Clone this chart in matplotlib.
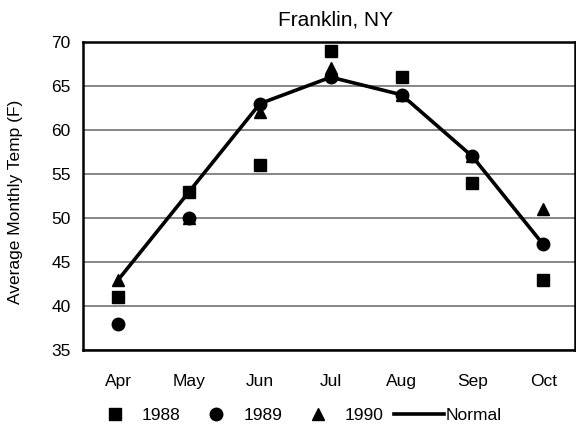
import matplotlib
matplotlib.use("Agg")
import matplotlib.pyplot as plt
import numpy as np

months = ["Apr", "May", "Jun", "Jul", "Aug", "Sep", "Oct"]
temp_1988 = [41, 53, 56, 69, 66, 54, 43]
temp_1989 = [38, 50, 63, 66, 64, 57, 47]
temp_1990 = [43, 50, 62, 67, 64, 57, 51]
normal = [43, 53, 63, 66, 64, 57, 47]
yticks = [35, 40, 45, 50, 55, 60, 65, 70]

plt.rcParams["font.family"] = ["Liberation Sans", "DejaVu Sans"]

fig = plt.figure(figsize=(5.76, 4.32), dpi=100)
ax = fig.add_axes([83 / 576, 1 - 350 / 432, 492 / 576, 308 / 432])
x = np.arange(len(months))

ax.plot(x, normal, color="black", linewidth=2.6, label="Normal", zorder=3)
ax.plot(x, temp_1988, "s", color="black", markersize=9, linestyle="none", label="1988", zorder=4)
ax.plot(x, temp_1989, "o", color="black", markersize=9, linestyle="none", label="1989", zorder=4)
ax.plot(x, temp_1990, "^", color="black", markersize=9, linestyle="none", label="1990", zorder=4)

ax.set_xlim(-0.5, 6.45)
ax.set_ylim(35, 70)
ax.set_yticks(yticks)
ax.set_xticks(x)
ax.set_xticklabels(months)
ax.tick_params(axis="both", length=0, labelsize=12.5)
ax.tick_params(axis="x", pad=17)
ax.tick_params(axis="y", pad=9)
ax.grid(axis="y", color="#666666", linewidth=1.1)
ax.set_axisbelow(True)
for s in ax.spines.values():
    s.set_linewidth(1.8)

fig.text(336 / 576, 1 - 20 / 432, "Franklin, NY", fontsize=15, ha="center", va="center")
ax.set_ylabel("Average Monthly Temp (F)", fontsize=12.5)
ax.yaxis.set_label_coords(-0.122, 0.48)

handles, labels = ax.get_legend_handles_labels()
order = [1, 2, 3, 0]
fig.legend([handles[i] for i in order], [labels[i] for i in order],
           loc="center left", bbox_to_anchor=(90 / 576, 1 - 415 / 432), ncol=4,
           frameon=False, fontsize=12.5, handlelength=2.9, columnspacing=0.6,
           handletextpad=0.1, borderpad=0, borderaxespad=0)

fig.savefig("out.png", dpi=100)
